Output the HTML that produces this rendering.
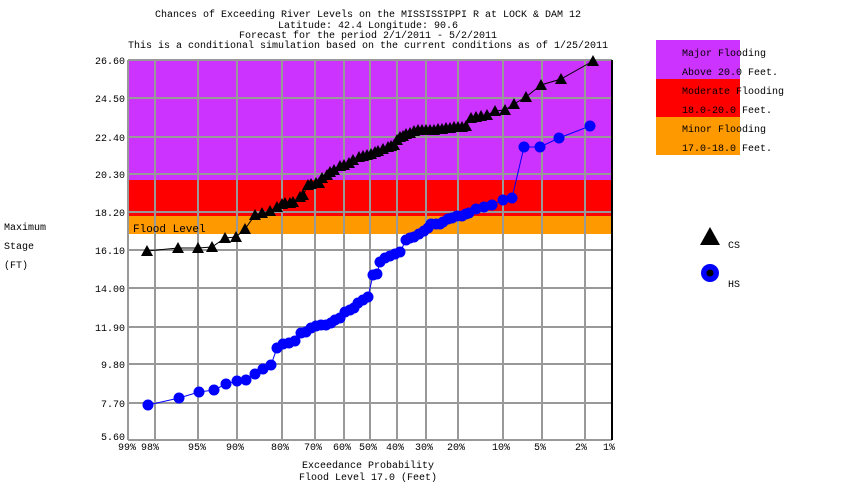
<!DOCTYPE html>
<html><head><meta charset="utf-8"><style>
html,body{margin:0;padding:0;background:#fff;}
svg{display:block;font-family:"Liberation Mono",monospace;font-size:10px;}
</style></head><body>
<svg width="850" height="500" viewBox="0 0 850 500" xmlns="http://www.w3.org/2000/svg">
<defs>
<marker id="tri" viewBox="-8 -8 16 16" markerWidth="16" markerHeight="16" refX="0" refY="0" markerUnits="userSpaceOnUse"><polygon points="0,-6 6,5 -6,5" fill="#000"/></marker>
<marker id="cir" viewBox="-8 -8 16 16" markerWidth="16" markerHeight="16" refX="0" refY="0" markerUnits="userSpaceOnUse"><circle r="5.5" fill="#0000ff"/></marker>
</defs>
<g text-anchor="middle" fill="#000">
<text x="368" y="17">Chances of Exceeding River Levels on the MISSISSIPPI R at LOCK &amp; DAM 12</text>
<text x="368" y="28">Latitude: 42.4    Longitude:  90.6</text>
<text x="368" y="38">Forecast for the period 2/1/2011 - 5/2/2011</text>
<text x="368" y="48">This is a conditional simulation based on the current conditions as of 1/25/2011</text>
</g>
<rect x="128" y="60" width="484" height="120" fill="#cc33ff"/>
<rect x="128" y="180" width="484" height="36" fill="#ff0000"/>
<rect x="128" y="216" width="484" height="18" fill="#ff9900"/>
<g stroke="#999" stroke-width="2">
<line x1="128" y1="98" x2="612" y2="98"/><line x1="128" y1="137" x2="612" y2="137"/><line x1="128" y1="174" x2="612" y2="174"/><line x1="128" y1="212" x2="612" y2="212"/><line x1="128" y1="250" x2="612" y2="250"/><line x1="128" y1="288" x2="612" y2="288"/><line x1="128" y1="327" x2="612" y2="327"/><line x1="128" y1="364" x2="612" y2="364"/><line x1="128" y1="403" x2="612" y2="403"/><line x1="128" y1="60" x2="612" y2="60"/><line x1="128" y1="440" x2="612" y2="440"/>
<line x1="155" y1="60" x2="155" y2="440"/><line x1="198" y1="60" x2="198" y2="440"/><line x1="237" y1="60" x2="237" y2="440"/><line x1="282" y1="60" x2="282" y2="440"/><line x1="315" y1="60" x2="315" y2="440"/><line x1="344" y1="60" x2="344" y2="440"/><line x1="370" y1="60" x2="370" y2="440"/><line x1="397" y1="60" x2="397" y2="440"/><line x1="426" y1="60" x2="426" y2="440"/><line x1="458" y1="60" x2="458" y2="440"/><line x1="503" y1="60" x2="503" y2="440"/><line x1="542" y1="60" x2="542" y2="440"/><line x1="585" y1="60" x2="585" y2="440"/><line x1="128" y1="60" x2="128" y2="440"/>
</g>
<line x1="612" y1="60" x2="612" y2="440" stroke="#000" stroke-width="2"/>
<text x="133" y="232" font-size="11">Flood Level</text>
<g text-anchor="end">
<text x="125" y="64">26.60</text><text x="125" y="102">24.50</text><text x="125" y="141">22.40</text><text x="125" y="178">20.30</text><text x="125" y="216">18.20</text><text x="125" y="254">16.10</text><text x="125" y="292">14.00</text><text x="125" y="331">11.90</text><text x="125" y="368">9.80</text><text x="125" y="407">7.70</text><text x="125" y="440">5.60</text>
</g>
<g text-anchor="middle">
<text x="127" y="450">99%</text><text x="150" y="450">98%</text><text x="197" y="450">95%</text><text x="235" y="450">90%</text><text x="280" y="450">80%</text><text x="313" y="450">70%</text><text x="342" y="450">60%</text><text x="368" y="450">50%</text><text x="395" y="450">40%</text><text x="424" y="450">30%</text><text x="456" y="450">20%</text><text x="501" y="450">10%</text><text x="540" y="450">5%</text><text x="581" y="450">2%</text><text x="609" y="450">1%</text>
<text x="368" y="468">Exceedance Probability</text>
<text x="368" y="480">Flood Level 17.0 (Feet)</text>
</g>
<text x="4" y="230">Maximum</text><text x="4" y="249">Stage</text><text x="4" y="268">(FT)</text>
<polyline fill="none" stroke="#000" stroke-width="1" marker-start="url(#tri)" marker-mid="url(#tri)" marker-end="url(#tri)" points="147,251 178,248 198,248 212,247 225,238 236,237 245,229 255,215 262,213 270,211 277,207 282,204 285,203 290,203 293,202 300,197 303,195 308,185 311,184 316,183 319,183 322,178 327,175 330,172 334,170 340,166 344,165 349,163 353,160 359,157 363,156 367,155 371,154 375,152 378,151 383,149 388,147 391,146 394,145 397,140 400,137 403,136 406,134 410,133 414,131 418,130 422,130 426,130 430,130 434,130 438,129 442,129 446,128 450,128 454,127 458,127 462,127 466,126 471,118 476,117 481,116 487,115 495,111 505,110 514,104 526,97 541,85 561,79 593,61"/>
<polyline fill="none" stroke="#0000ff" stroke-width="1" marker-start="url(#cir)" marker-mid="url(#cir)" marker-end="url(#cir)" points="148,405 179,398 199,392 214,390 226,384 237,381 246,380 255,374 263,369 271,365 277,348 283,344 289,343 295,341 301,333 306,332 311,328 316,326 321,325 326,325 331,323 335,320 340,318 345,312 350,310 354,308 358,303 363,300 368,297 373,275 377,274 380,262 385,258 390,256 395,254 400,252 406,240 410,238 414,237 419,234 424,231 428,228 431,224 436,224 440,224 443,222 448,219 452,218 457,216 462,216 466,214 469,213 476,209 484,207 492,205 503,200 512,198 524,147 540,147 559,138 590,126"/>
<rect x="656" y="40" width="84" height="39" fill="#cc33ff"/>
<rect x="656" y="79" width="84" height="38" fill="#ff0000"/>
<rect x="656" y="117" width="84" height="38" fill="#ff9900"/>
<text x="682" y="56">Major Flooding</text><text x="682" y="75">Above 20.0 Feet.</text>
<text x="682" y="94">Moderate Flooding</text><text x="682" y="113">18.0-20.0 Feet.</text>
<text x="682" y="132">Minor Flooding</text><text x="682" y="151">17.0-18.0 Feet.</text>
<polygon points="710,227 720,245 700,245" fill="#000"/>
<text x="728" y="248">CS</text>
<circle cx="710" cy="273" r="9" fill="#0000ff"/><circle cx="710" cy="273" r="3.5" fill="#000"/>
<text x="728" y="287">HS</text>
</svg>
</body></html>
